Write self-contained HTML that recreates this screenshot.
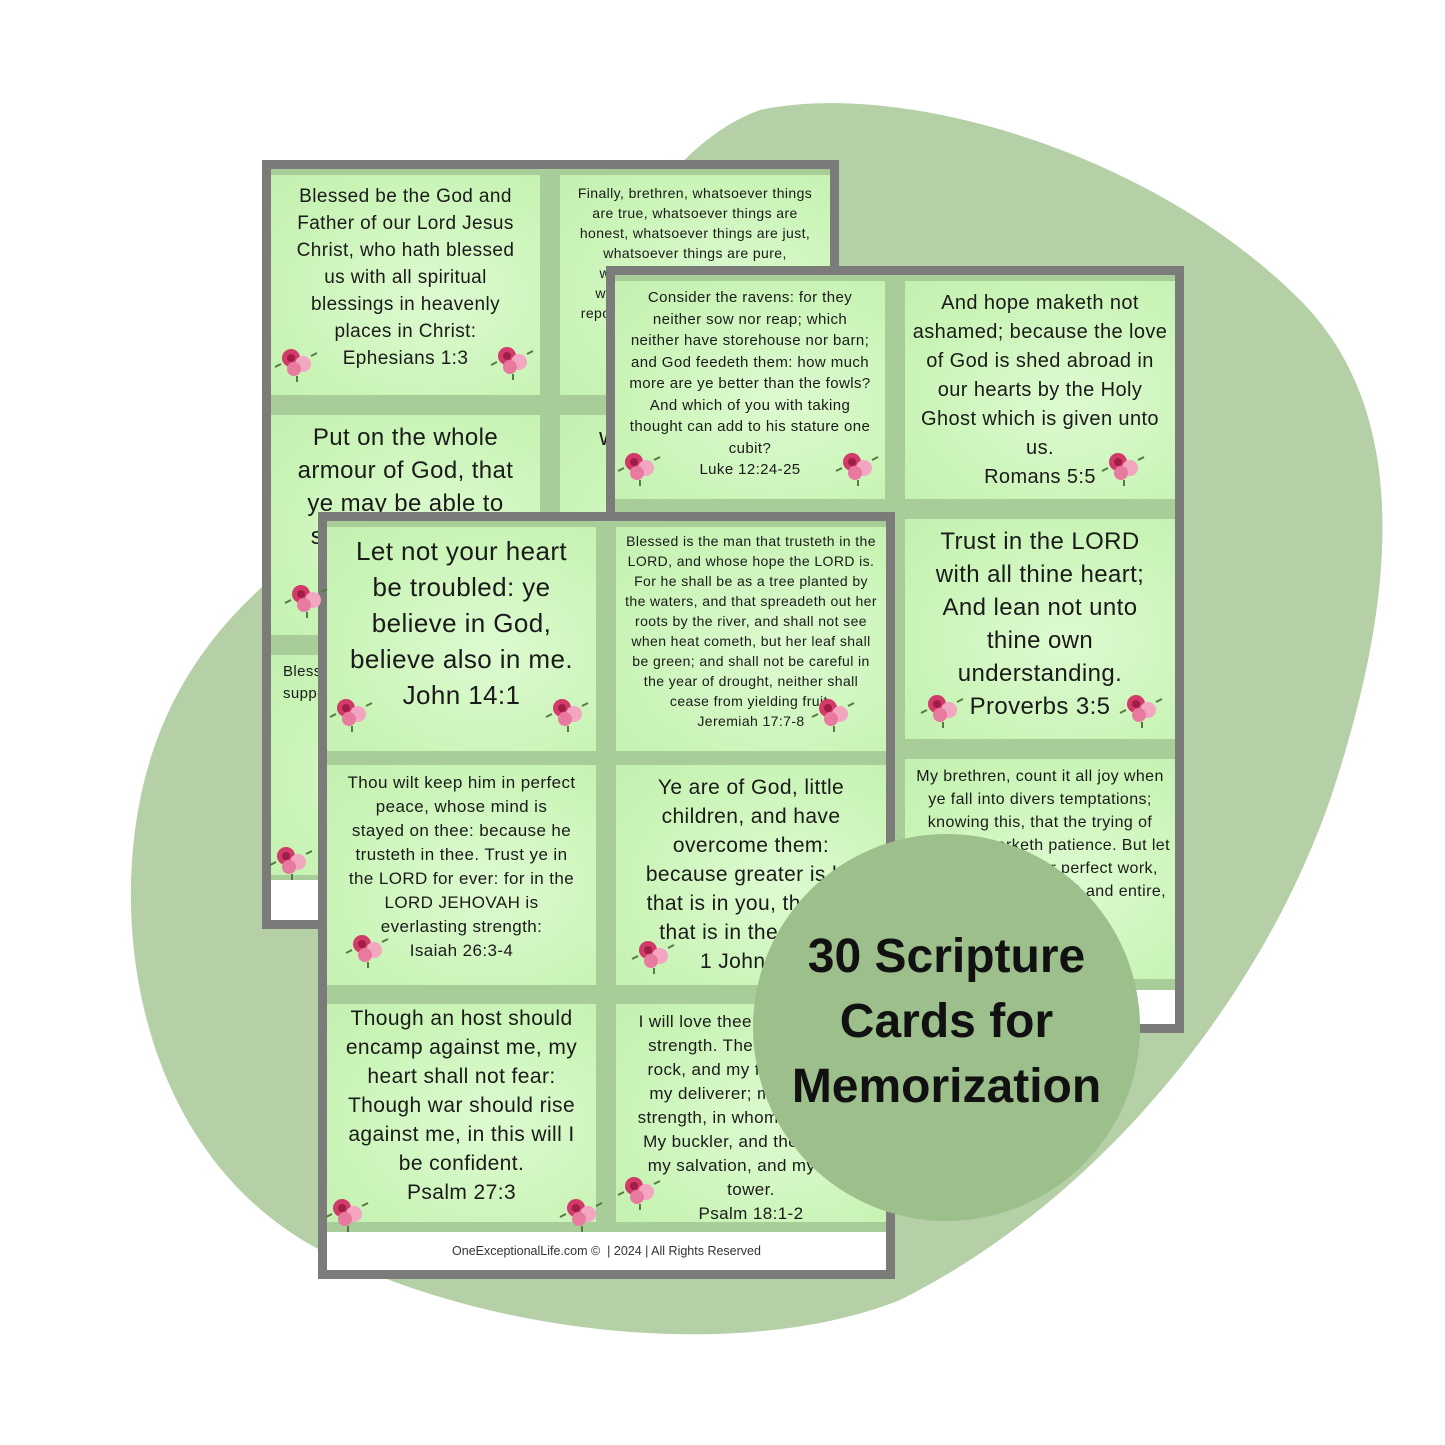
<!DOCTYPE html>
<html><head><meta charset="utf-8">
<style>
*{margin:0;padding:0;box-sizing:border-box}
body{width:1445px;height:1445px;background:#fff;position:relative;overflow:hidden;font-family:"Liberation Sans",sans-serif;color:#1a1a1a}
.sheet{position:absolute;background:#a9cd98;border:9px solid #7b7b79}
.card{position:absolute;background:radial-gradient(ellipse at 60% 55%,#ddfad0 0%,#c9f4b6 70%,#c3f0b0 100%);text-align:center;display:flex;flex-direction:column;justify-content:flex-start;align-items:center;overflow:hidden;padding-left:14px;padding-right:14px;letter-spacing:0.4px}
.foot{position:absolute;background:#fff;left:0;right:0;bottom:0;text-align:center;font-size:12px;color:#333}
.L{font-size:24px;line-height:33px;padding-top:6px}
.M{font-size:19px;line-height:27px;padding-top:8px}
.S{font-size:15px;line-height:21.5px;padding-top:6px}
.XS{font-size:14px;line-height:20px;padding-top:4px}
</style></head><body>
<svg width="1445" height="1445" style="position:absolute;left:0;top:0">
<path d="M760 110 C900 80 1150 150 1300 300 C1420 420 1390 620 1330 800 C1260 1000 1100 1200 900 1300 C750 1360 500 1340 320 1250 C150 1160 110 950 140 800 C170 650 270 560 420 480 C560 400 620 160 760 110 Z" fill="#b5cfa7"/>
</svg>

<div class="sheet" style="left:262px;top:160px;width:577px;height:769px">
 <div class="card M" style="left:0;top:6px;width:269px;height:220px;padding-left:16px;padding-right:16px">Blessed be the God and Father of our Lord Jesus Christ, who hath blessed us with all spiritual blessings in heavenly places in Christ:<br>Ephesians 1:3</div>
 <div class="card XS" style="left:289px;top:6px;width:270px;height:220px;padding-top:8px">Finally, brethren, whatsoever things are true, whatsoever things are honest, whatsoever things are just, whatsoever things are pure, whatsoever things are lovely, whatsoever things are of good report; if there be any virtue, and if there be any praise</div>
 <div class="card L" style="left:0;top:246px;width:269px;height:220px">Put on the whole armour of God, that ye may be able to stand against the wiles</div>
 <div class="card L" style="left:289px;top:246px;width:270px;height:220px">wherefore of God</div>
 <div class="card S" style="left:0;top:486px;width:269px;height:220px;text-align:left;padding-left:12px">Blessed is the man that he hath suppose strength heart he great</div>
 <div class="card S" style="left:289px;top:486px;width:270px;height:220px"></div>
 <div class="foot" style="height:40px"></div>
</div>

<div class="sheet" style="left:606px;top:266px;width:578px;height:767px">
 <div class="card S" style="left:0;top:6px;width:270px;height:218px">Consider the ravens: for they neither sow nor reap; which neither have storehouse nor barn; and God feedeth them: how much more are ye better than the fowls? And which of you with taking thought can add to his stature one cubit?<br>Luke 12:24-25</div>
 <div class="card M" style="left:290px;top:6px;width:270px;height:218px;font-size:20px;line-height:29px;padding-left:6px;padding-right:6px">And hope maketh not ashamed; because the love of God is shed abroad in our hearts by the Holy Ghost which is given unto us.<br>Romans 5:5</div>
 <div class="card L" style="left:0;top:244px;width:270px;height:220px"></div>
 <div class="card L" style="left:290px;top:244px;width:270px;height:220px;padding-left:20px;padding-right:20px">Trust in the LORD with all thine heart; And lean not unto thine own understanding.<br>Proverbs 3:5</div>
 <div class="card S" style="left:0;top:484px;width:270px;height:220px"></div>
 <div class="card S" style="left:290px;top:484px;width:270px;height:220px;font-size:16px;line-height:23px;padding-left:4px;padding-right:4px">My brethren, count it all joy when ye fall into divers temptations; knowing this, that the trying of your faith worketh patience. But let patience have her perfect work, that ye may be perfect and entire, wanting nothing.</div>
 <div class="foot" style="height:34px"></div>
</div>

<div class="sheet" style="left:318px;top:512px;width:577px;height:767px">
 <div class="card L" style="left:0;top:6px;width:269px;height:224px;font-size:26px;line-height:36px;padding-left:18px;padding-right:18px">Let not your heart be troubled: ye believe in God, believe also in me.<br>John 14:1</div>
 <div class="card XS" style="left:289px;top:6px;width:270px;height:224px;padding-left:6px;padding-right:6px">Blessed is the man that trusteth in the LORD, and whose hope the LORD is. For he shall be as a tree planted by the waters, and that spreadeth out her roots by the river, and shall not see when heat cometh, but her leaf shall be green; and shall not be careful in the year of drought, neither shall cease from yielding fruit.<br>Jeremiah 17:7-8</div>
 <div class="card S" style="left:0;top:244px;width:269px;height:220px;font-size:17px;line-height:24px;padding-left:20px;padding-right:20px">Thou wilt keep him in perfect peace, whose mind is stayed on thee: because he trusteth in thee. Trust ye in the LORD for ever: for in the LORD JEHOVAH is everlasting strength:<br>Isaiah 26:3-4</div>
 <div class="card M" style="left:289px;top:244px;width:270px;height:220px;font-size:21px;line-height:29px;padding-left:18px;padding-right:18px">Ye are of God, little children, and have overcome them: because greater is he that is in you, than he that is in the world.<br>1 John 4:4</div>
 <div class="card M" style="left:0;top:483px;width:269px;height:218px;font-size:21px;line-height:29px;padding-top:0;padding-left:16px;padding-right:16px">Though an host should encamp against me, my heart shall not fear: Though war should rise against me, in this will I be confident.<br>Psalm 27:3</div>
 <div class="card S" style="left:289px;top:483px;width:270px;height:218px;font-size:17px;line-height:24px;padding-left:20px;padding-right:20px">I will love thee, O LORD, my strength. The LORD is my rock, and my fortress, and my deliverer; my God, my strength, in whom I will trust; My buckler, and the horn of my salvation, and my high tower.<br>Psalm 18:1-2</div>
 <div class="foot" style="height:38px;line-height:38px;font-size:12.5px">OneExceptionalLife.com © &nbsp;| 2024 | All Rights Reserved</div>
</div>

<svg width="1445" height="1445" style="position:absolute;left:0;top:0">
<defs><g id="f"><circle cx="-6" cy="-4" r="9" fill="#d23a6a"/><circle cx="6" cy="2" r="8" fill="#f2a6c0"/><circle cx="-3" cy="7" r="7" fill="#e87aa0"/><circle cx="-6" cy="-4" r="4" fill="#a01e45"/><path d="M-16 2 l-6 3 M14 -6 l6 -3 M0 14 l0 6" stroke="#557a44" stroke-width="2"/></g></defs>
<use href="#f" x="297" y="362"/><use href="#f" x="513" y="360"/>
<use href="#f" x="307" y="598"/><use href="#f" x="292" y="860"/>
<use href="#f" x="640" y="466"/><use href="#f" x="858" y="466"/>
<use href="#f" x="1124" y="466"/>
<use href="#f" x="943" y="708"/><use href="#f" x="1142" y="708"/>
<use href="#f" x="352" y="712"/><use href="#f" x="568" y="712"/>
<use href="#f" x="834" y="712"/>
<use href="#f" x="368" y="948"/><use href="#f" x="654" y="954"/>
<use href="#f" x="348" y="1212"/><use href="#f" x="582" y="1212"/>
<use href="#f" x="640" y="1190"/>
</svg>

<div style="position:absolute;left:753px;top:834px;width:387px;height:387px;border-radius:50%;background:#9dbf8c;display:flex;align-items:center;justify-content:center;text-align:center;font-weight:bold;font-size:48px;line-height:65px;color:#111;padding-bottom:12px">30 Scripture<br>Cards for<br>Memorization</div>
</body></html>
